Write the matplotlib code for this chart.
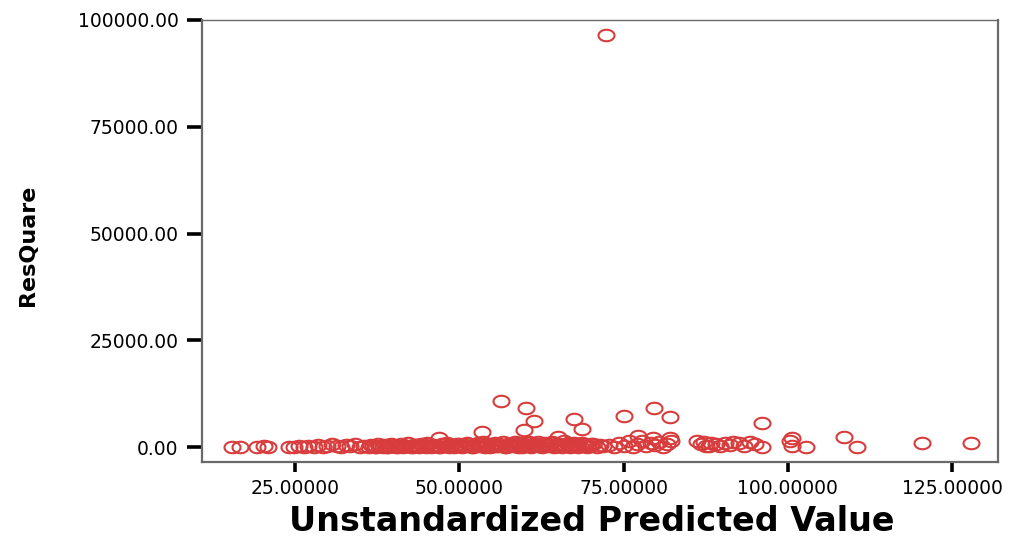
import numpy as np
import matplotlib
matplotlib.use("Agg")
import matplotlib.pyplot as plt
from matplotlib.path import Path

# predicted values and squared residuals
pred = [15.4, 16.6, 19.1, 20.3, 20.9,
        24.0, 24.8, 25.5, 26.3, 27.0, 27.8, 28.5, 29.2, 29.9, 30.6, 31.3, 32.0,
        32.7, 33.4, 34.1, 34.8, 35.5, 36.2,
        36.8, 37.3, 37.9, 38.4, 38.9, 39.4, 39.9, 40.4, 40.9, 41.4, 41.9, 42.4,
        42.9, 43.4, 43.9, 44.4, 44.9, 45.4, 45.9, 46.4, 46.9, 47.4, 47.9, 48.4,
        48.9, 49.4, 49.9, 50.4, 50.9, 51.4, 51.9, 52.4, 52.9, 53.4, 53.9, 54.4,
        54.9, 55.4, 55.9, 56.4, 56.9, 57.4, 57.9, 58.4, 58.9, 59.4, 59.9, 60.4,
        60.9, 61.4, 61.9, 62.4, 62.9, 63.4, 63.9, 64.4, 64.9, 65.4, 65.9, 66.4,
        66.9, 67.4, 67.9, 68.4, 68.9, 69.4, 69.9, 70.4, 70.9, 71.4, 71.9, 72.8,
        73.5, 74.3, 75.0, 75.8, 76.5, 77.1, 77.8, 78.4, 79.1, 79.8, 80.4, 81.0,
        81.6, 82.2, 86.2, 86.8, 87.6, 88.3, 89.0, 89.7, 90.5, 91.2, 92.5, 93.4,
        94.2, 95.0, 96.0, 100.3, 100.7, 102.8, 110.5, 120.5, 127.9,
        72.3, 56.4, 60.1, 61.4, 59.8, 53.5, 67.4, 68.6, 75.1, 79.7, 82.1, 96.1,
        108.5, 100.6, 46.9, 65.0, 77.2, 79.4, 82.1]
res_sq = [80, 120, 60, 250, 90,
          100, 40, 200, 60, 350, 120, 500, 80, 300, 650, 150, 40,
          400, 200, 700, 90, 300, 50,
          200, 60, 350, 120, 30, 250, 500, 90, 180, 40, 300, 150,
          60, 420, 100, 250, 20, 600, 140, 300, 70, 800, 200, 50,
          450, 150, 600, 100, 300, 700, 50, 400, 900, 200, 80, 600,
          300, 1000, 150, 500, 60, 800, 300, 1100, 100, 600, 250, 900,
          50, 400, 1200, 150, 700, 300, 1000, 80, 500, 200, 1300, 600,
          100, 900, 400, 150, 700, 50, 300, 600, 100, 400, 200, 500,
          100, 900, 300, 1300, 100, 600, 1500, 200, 900, 400, 1200, 100,
          700, 1400, 1500, 800, 300, 1000, 600, 200, 900, 400, 1000, 300,
          1200, 600, 100, 1500, 200, 100, 50, 900, 1000,
          96600, 10800, 9100, 6100, 4000, 3500, 6500, 4200, 7300, 9100, 7000, 5600,
          2400, 2200, 2200, 2300, 2500, 2100, 2000]

# second batch of cases in the crowded middle range
pred_b = [36.6, 37.1, 37.6, 38.1, 38.6, 39.1, 39.6, 40.1, 40.6, 41.1,
          41.6, 42.1, 42.6, 43.1, 43.6, 44.1, 44.6, 45.1, 45.6, 46.1,
          46.6, 47.1, 47.6, 48.1, 48.6, 49.1, 49.6, 50.1, 50.6, 51.1,
          51.6, 52.1, 52.6, 53.1, 53.6, 54.1, 54.6, 55.1, 55.6, 56.1,
          56.6, 57.1, 57.6, 58.1, 58.6, 59.1, 59.6, 60.1, 60.6, 61.1,
          61.6, 62.1, 62.6, 63.1, 63.6, 64.1, 64.6, 65.1, 65.6, 66.1,
          66.6, 67.1, 67.6, 68.1, 68.6, 69.1, 69.6, 70.1, 87.2, 88.0,
          91.6]
res_sq_b = [450, 30, 700, 250, 550, 100, 800, 350, 20, 600,
            220, 900, 70, 500, 300, 750, 150, 1000, 40, 550,
            350, 120, 650, 900, 300, 40, 800, 550, 180, 1000,
            350, 60, 650, 250, 1100, 450, 30, 800, 350, 600,
            1200, 80, 450, 700, 250, 1000, 30, 500, 1100, 200,
            750, 350, 60, 900, 450, 1200, 300, 800, 50, 450,
            1000, 200, 650, 30, 900, 450, 150, 700, 1100, 200,
            1200]

xticks = [25, 50, 75, 100, 125]
yticks = [0, 25000, 50000, 75000, 100000]

# slightly flattened circle as marker
t = np.linspace(0, 2 * np.pi, 60)
oval = Path(np.column_stack([np.cos(t), 0.72 * np.sin(t)]), closed=True)

fig = plt.figure(figsize=(10.11, 5.39), dpi=100)
ax = fig.add_axes([0.1998, 0.1429, 0.7873, 0.82])

ax.plot(pred + pred_b, res_sq + res_sq_b, linestyle="none", marker=oval,
        markersize=11.5, markerfacecolor="none", markeredgecolor="#d83c3c",
        markeredgewidth=1.5)

ax.set_xlim(10.8, 132)
ax.set_ylim(-3500, 100000)
ax.set_xticks(xticks)
ax.set_xticklabels([f"{v:.5f}" for v in xticks])
ax.set_yticks(yticks)
ax.set_yticklabels([f"{v:.2f}" for v in yticks])

ax.tick_params(axis="both", direction="out", width=2.6, color="black",
               labelsize=13.5)
ax.tick_params(axis="y", length=11, pad=6)
ax.tick_params(axis="x", length=7.5, pad=5)
for s in ax.spines.values():
    s.set_color("#6a6a6a")
    s.set_linewidth(1.6)
ax.spines["top"].set_linewidth(1.0)

fig.text(0.585, 0.032, "Unstandardized Predicted Value", ha="center",
         va="center", fontsize=24, fontweight="bold")
fig.text(0.028, 0.545, "ResQuare", ha="center", va="center", rotation=90,
         fontsize=16, fontweight="bold")

fig.savefig("out.png", dpi=100)
